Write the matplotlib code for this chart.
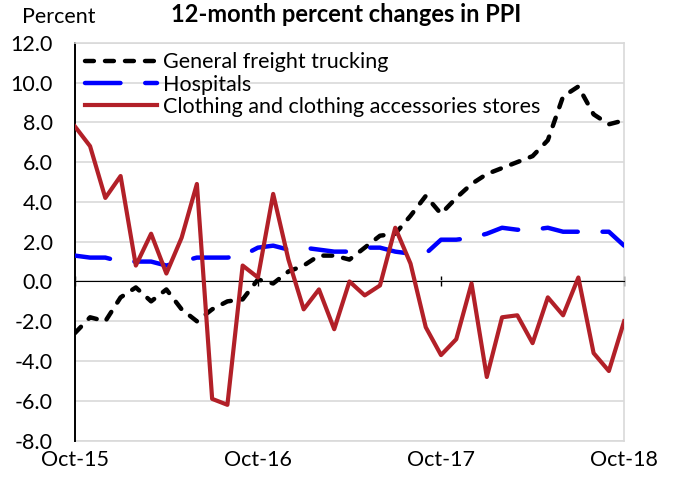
import matplotlib
matplotlib.use("Agg")
import numpy as np
import matplotlib.pyplot as plt
from matplotlib.ticker import MultipleLocator, FormatStrFormatter

plt.rcParams["font.family"] = ["Lato", "DejaVu Sans"]

# monthly, Oct-15 .. Oct-18
months = list(range(37))
tick_pos = [0, 12, 24, 36]
tick_labels = ["Oct-15", "Oct-16", "Oct-17", "Oct-18"]

freight = [-2.6, -1.8, -2.0, -0.8, -0.3, -1.0, -0.4, -1.4, -2.0, -1.4, -1.0, -0.9,
           0.1, -0.1, 0.5, 0.8, 1.3, 1.3, 1.1, 1.7, 2.3, 2.4, 3.3, 4.3,
           3.4, 4.2, 4.9, 5.4, 5.7, 6.0, 6.3, 7.1, 9.3, 9.8, 8.4, 7.9, 8.1]
hospitals = [1.3, 1.2, 1.2, 1.0, 1.0, 1.0, 0.8, 1.0, 1.2, 1.2, 1.2, 1.3,
             1.7, 1.8, 1.6, 1.7, 1.6, 1.5, 1.5, 1.7, 1.7, 1.5, 1.4, 1.4,
             2.1, 2.1, 2.2, 2.4, 2.7, 2.6, 2.6, 2.7, 2.5, 2.5, 2.5, 2.5, 1.8]
clothing = [7.8, 6.8, 4.2, 5.3, 0.8, 2.4, 0.4, 2.2, 4.9, -5.9, -6.2, 0.8,
            0.2, 4.4, 1.1, -1.4, -0.4, -2.4, 0.0, -0.7, -0.2, 2.7, 0.9, -2.3,
            -3.7, -2.9, -0.1, -4.8, -1.8, -1.7, -3.1, -0.8, -1.7, 0.2, -3.6, -4.5, -2.0]

fig = plt.figure(figsize=(6.74, 4.8), dpi=100)
ax = fig.add_axes([0.111, 0.082, 0.815, 0.829])
ax.set_xlim(0, 36)
ax.set_ylim(-8, 12)

lw = 3.2


def fitted_dashes(x, y, on, off):
    # stretch the dash period a little so the series ends inside a dash
    pts = ax.transData.transform(np.column_stack([x, y])) * 72.0 / fig.dpi
    length = np.hypot(*np.diff(pts, axis=0).T).sum() / lw
    n = max(1, round((length - 0.8 * on) / (on + off)))
    k = (length - 0.8 * on) / (n * (on + off))
    return (on * k, off * k)


ax.plot(months, freight, color="black", lw=lw, dashes=(2.0, 2.5),
        dash_capstyle="round", label="General freight trucking", zorder=3)
ax.plot(months, hospitals, color="#0000FF", lw=lw,
        dashes=fitted_dashes(months, hospitals, 7.6, 5.3),
        dash_capstyle="round", label="Hospitals", zorder=3)
ax.plot(months, clothing, color="#B22028", lw=3.0,
        label="Clothing and clothing accessories stores", zorder=4)

ax.yaxis.set_major_locator(MultipleLocator(2))
ax.yaxis.set_major_formatter(FormatStrFormatter("%.1f"))
ax.grid(True, axis="y", color="#d9d9d9", lw=1.2, zorder=0)
ax.set_axisbelow(True)

# x axis line crosses at zero
ax.spines["bottom"].set_position(("data", 0))
ax.spines["bottom"].set_color("black")
ax.spines["left"].set_color("black")
ax.spines["left"].set_linewidth(1.4)
ax.spines["top"].set_color("#d9d9d9")
ax.spines["right"].set_color("#d9d9d9")
ax.spines["top"].set_linewidth(1.2)
ax.spines["right"].set_linewidth(1.2)
ax.set_xticks(tick_pos)
ax.tick_params(axis="x", direction="inout", length=7, width=1, labelbottom=False)
ax.tick_params(axis="y", length=0, labelsize=15.5, pad=16)

sec = ax.secondary_xaxis("bottom")
sec.set_xticks(tick_pos)
sec.set_xticklabels(tick_labels)
sec.tick_params(length=0, labelsize=15.5, pad=7)
sec.spines["bottom"].set_color("#d9d9d9")
sec.spines["bottom"].set_linewidth(1.2)

ax.legend(loc="upper left", frameon=False, fontsize=15.5, handlelength=3.35,
          handletextpad=0.28, borderaxespad=0.15, labelspacing=0.1,
          borderpad=0.3, bbox_to_anchor=(0.0, 1.0))

fig.text(0.032, 0.965, "Percent", fontsize=15.5, va="center")
fig.text(0.513, 0.969, "12-month percent changes in PPI", fontsize=17,
         fontweight="bold", ha="center", va="center")

fig.savefig("out.png", dpi=100)
